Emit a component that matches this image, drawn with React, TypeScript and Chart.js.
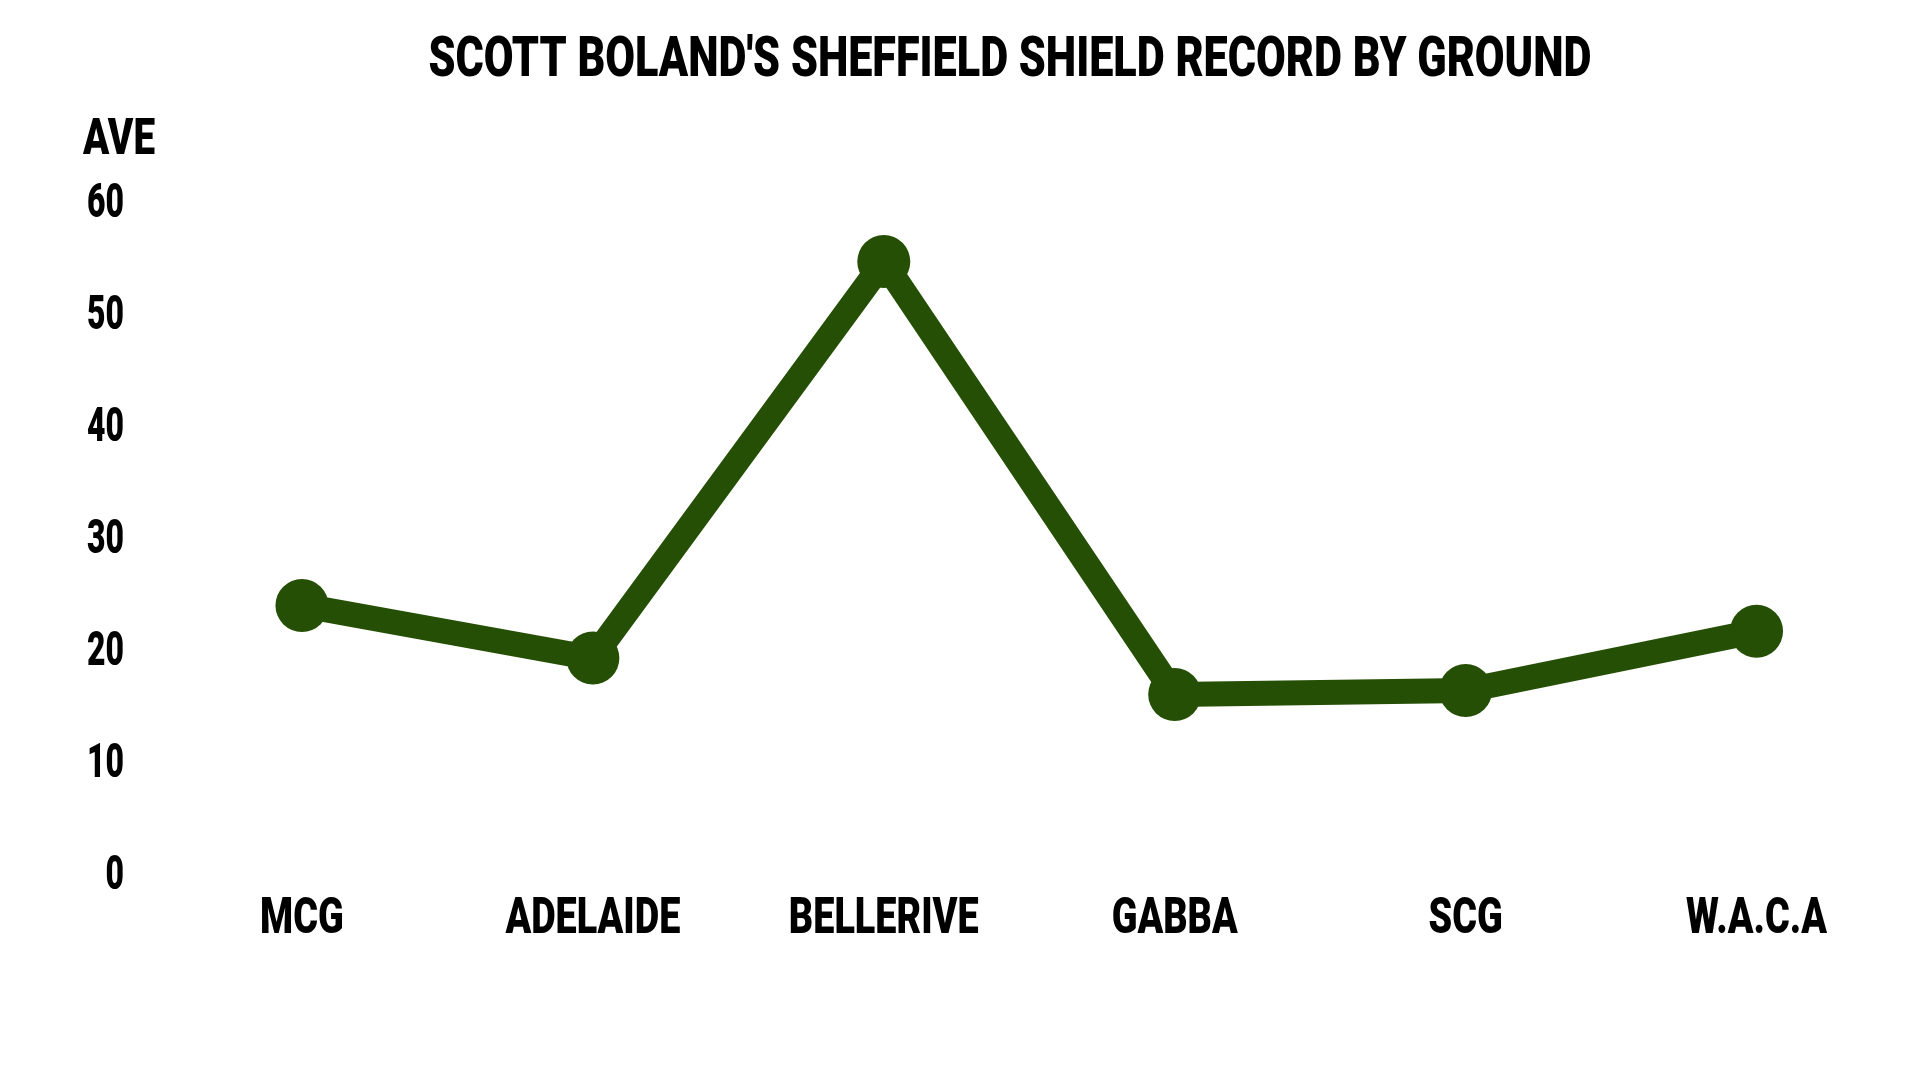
import React, { useEffect, useRef } from "react";
import { Chart, registerables } from "chart.js";

Chart.register(...registerables);

const TITLE = "SCOTT BOLAND'S SHEFFIELD SHIELD RECORD BY GROUND";
const Y_TITLE = "AVE";
const grounds = ["MCG", "ADELAIDE", "BELLERIVE", "GABBA", "SCG", "W.A.C.A"];
const averages = [23.8, 19.1, 54.5, 15.85, 16.2, 21.5];
const yTicks = [0, 10, 20, 30, 40, 50, 60];

const GREEN = "#254f04";
const FONT = "Roboto, 'Liberation Sans', sans-serif";

function drawCondensed(
  ctx: CanvasRenderingContext2D,
  text: string,
  x: number,
  baseline: number,
  size: number,
  scaleX: number,
  align: CanvasTextAlign
) {
  ctx.save();
  ctx.font = `900 ${size}px ${FONT}`;
  ctx.fillStyle = "#000";
  ctx.textBaseline = "alphabetic";
  ctx.textAlign = align;
  ctx.translate(x, baseline);
  ctx.scale(scaleX, 1);
  ctx.fillText(text, 0, 0);
  ctx.restore();
}

function fitScale(ctx: CanvasRenderingContext2D, text: string, size: number, target: number) {
  ctx.save();
  ctx.font = `900 ${size}px ${FONT}`;
  const w = ctx.measureText(text).width;
  ctx.restore();
  return w > 0 ? target / w : 1;
}

export default function App() {
  const ref = useRef<HTMLCanvasElement>(null);

  useEffect(() => {
    if (!ref.current) return;
    const textPlugin = {
      id: "customTexts",
      afterDraw(chart: any) {
        const ctx: CanvasRenderingContext2D = chart.ctx;
        const xs = chart.scales.x;
        const ys = chart.scales.y;
        // Title
        const ts = fitScale(ctx, TITLE, 55, 1163);
        drawCondensed(ctx, TITLE, 1010, 76, 55, ts, "center");
        // Y axis title
        const as = fitScale(ctx, Y_TITLE, 50, 72);
        drawCondensed(ctx, Y_TITLE, 83, 154, 50, as, "left");
        // Y tick labels
        const yF = fitScale(ctx, "60", 49, 37);
        const capH = 49 * 0.711;
        yTicks.forEach((v) => {
          const y = ys.getPixelForValue(v);
          drawCondensed(ctx, String(v), 124, y + capH / 2, 49, yF, "right");
        });
        // X labels
        const xsF = fitScale(ctx, "ADELAIDE", 50, 175);
        grounds.forEach((g, i) => {
          const x = xs.getPixelForValue(i);
          drawCondensed(ctx, g, x, 933, 50, xsF, "center");
        });
      },
    };

    const chart = new Chart(ref.current, {
      type: "line",
      data: {
        labels: grounds,
        datasets: [
          {
            data: averages,
            borderColor: GREEN,
            backgroundColor: GREEN,
            borderWidth: 25,
            borderJoinStyle: "bevel",
            pointRadius: 26.5,
            pointHoverRadius: 26.5,
            pointBackgroundColor: GREEN,
            pointBorderColor: GREEN,
            pointBorderWidth: 0,
            tension: 0,
            fill: false,
            clip: false,
          },
        ],
      },
      options: {
        animation: false,
        responsive: false,
        layout: { autoPadding: false, padding: { top: 200, right: 18, bottom: 208, left: 0 } },
        plugins: {
          legend: { display: false },
          tooltip: { enabled: false },
          title: { display: false },
        },
        scales: {
          x: {
            offset: true,
            grid: { display: false, drawTicks: false },
            border: { display: false },
            ticks: { display: false },
            afterFit: (s: any) => {
              s.height = 0;
            },
          },
          y: {
            min: 0,
            max: 60,
            afterBuildTicks: (s: any) => {
              s.ticks = yTicks.map((v) => ({ value: v }));
            },
            grid: { display: false, drawTicks: false },
            border: { display: false },
            ticks: { display: false },
            afterFit: (s: any) => {
              s.width = 156.5;
            },
          },
        },
      },
      plugins: [textPlugin],
    } as any);

    return () => chart.destroy();
  }, []);

  return (
    <div
      style={{
        position: "fixed",
        left: 0,
        top: 0,
        width: 1920,
        height: 1080,
        background: "#fff",
      }}
    >
      <canvas ref={ref} width={1920} height={1080} style={{ display: "block" }} />
    </div>
  );
}
